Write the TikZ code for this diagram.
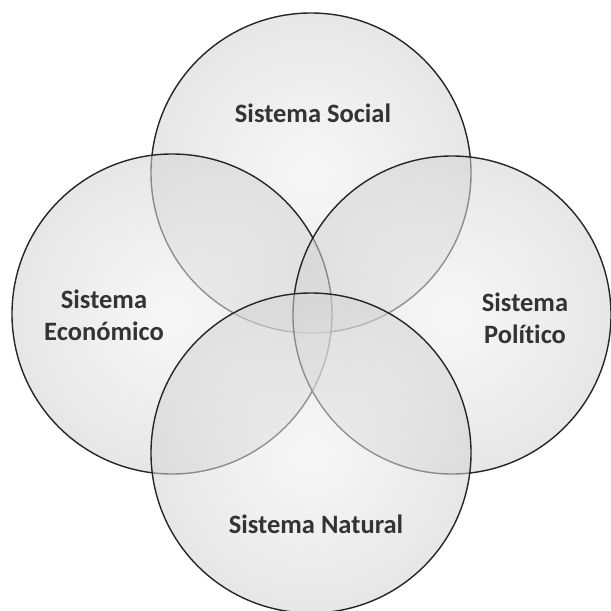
\documentclass[tikz,border=0pt]{standalone}
\usepackage{fontspec}
\setmainfont{Carlito}[Ligatures=NoCommon]
\begin{document}
% soft radial fill: light centre, grey rim (50bp = circle radius)
\pgfdeclareradialshading{discfill}{\pgfpoint{0bp}{0bp}}{%
  color(0bp)=(black!5); color(50bp)=(black!29); color(72bp)=(black!29)}
\begin{tikzpicture}[x=1pt,y=-1pt,
    disc/.style={draw=black!85, line width=1.4pt, shading=discfill, fill opacity=0.55, draw opacity=1},
    lbl/.style={font=\fontsize{26.5}{32}\selectfont\bfseries, text=black!80, inner sep=0pt, align=center}]
  \useasboundingbox (0,0) rectangle (611,611);
  \fill[white] (0,0) rectangle (611,611);
  % the four systems, drawn top, left, right, bottom
  \path[disc] (311,173) circle[radius=160];
  \coordinate (social) at (311,173);
  \path[disc] (172,314) circle[radius=160];
  \coordinate (econ) at (172,314);
  \path[disc] (452,315) circle[radius=159];
  \coordinate (pol) at (452,315);
  \path[disc] (311,453) circle[radius=160];
  \coordinate (nat) at (311,453);
  % labels (base anchor of a two-line label sits on its last line)
  \node[lbl, anchor=base] (tsocial) at (313,122) {Sistema Social};
  \node[lbl, anchor=base] (tecon) at (104,340) {Sistema\\Económico};
  \node[lbl, anchor=base] (tpol) at (525,343) {Sistema\\Político};
  \node[lbl, anchor=base] (tnat) at (316,533) {Sistema Natural};
\end{tikzpicture}
\end{document}
